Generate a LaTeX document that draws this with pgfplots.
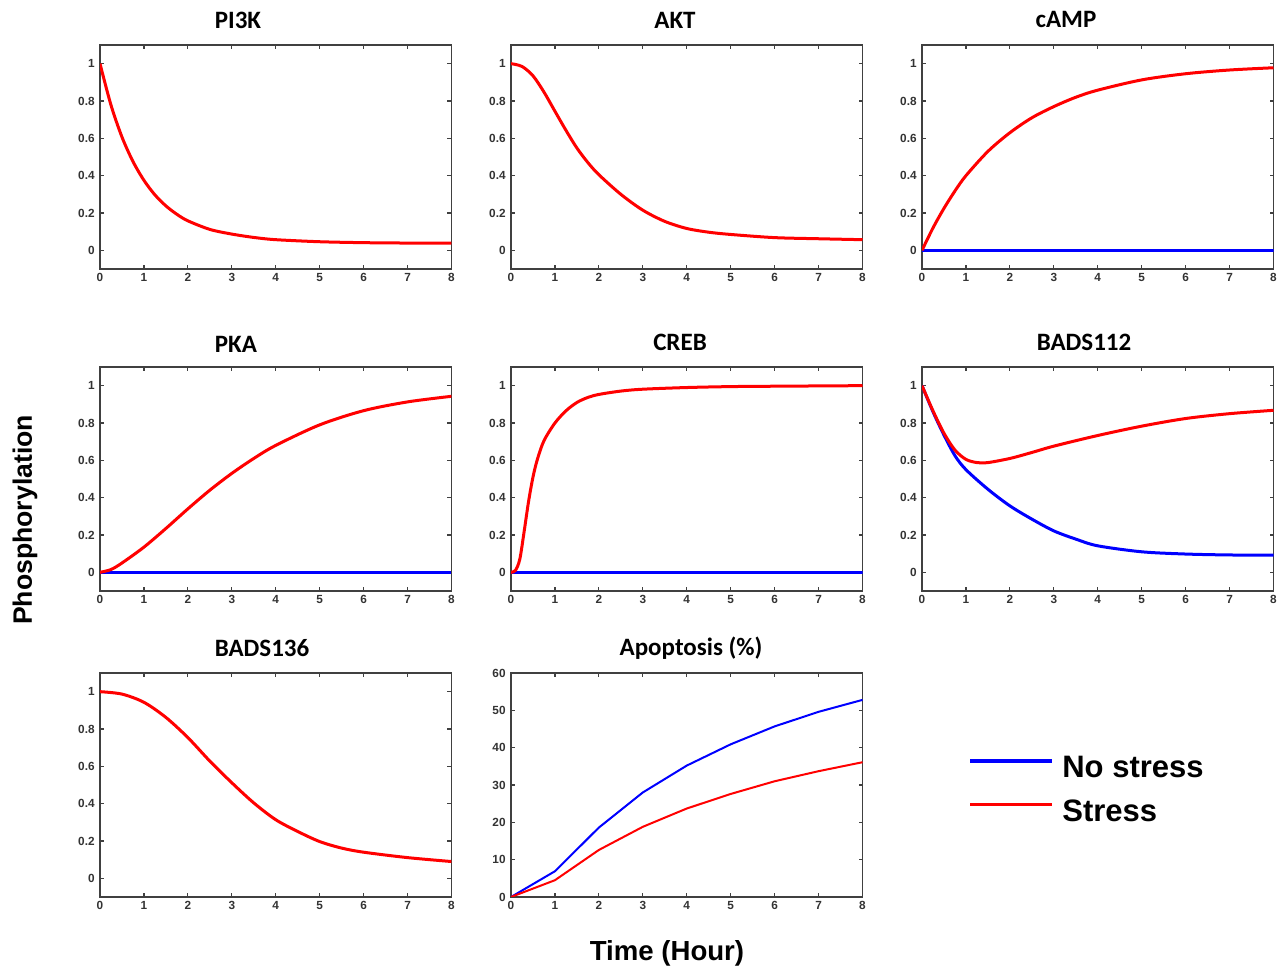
\documentclass[border=0pt]{standalone}
\usepackage{pgfplots}
\pgfplotsset{compat=1.18}
\usepackage{fontspec}
\setmainfont{Liberation Sans}
\newfontfamily\titlefont{Carlito}

\newcommand{\ticksfont}{\fontsize{5.9}{6.5}\selectfont\bfseries}
\definecolor{nostress}{RGB}{0,0,255}
\definecolor{stress}{RGB}{255,0,0}

\pgfplotsset{
  panel/.style={
    scale only axis, width=175.75pt, height=112pt, anchor=south west,
    xmin=0, xmax=8, xtick={0,1,2,3,4,5,6,7,8},
    tick align=inside, major tick length=2pt,
    axis line style={black!75, line width=0.6pt},
    every tick/.style={black!75, line width=0.6pt},
    ticklabel style={font=\ticksfont, text=black!80},
    xticklabel style={inner sep=1.8pt},
    yticklabel style={inner sep=1.5pt, xshift=-1pt},
    /pgf/number format/assume math mode=true,
  },
  phos/.style={panel, ymin=-0.1, ymax=1.1, ytick={0,0.2,0.4,0.6,0.8,1}},
  ns/.style={nostress, line width=1.5pt},
  st/.style={stress, line width=1.5pt},
}

\begin{document}
\begin{tikzpicture}

% ---------------- row 1 ----------------
\begin{axis}[phos, at={(50pt,349.5pt)}]
  \addplot[st, smooth] coordinates {(0,1) (0.25,0.778) (0.5,0.607) (0.75,0.476) (1,0.375)
    (1.25,0.297) (1.5,0.238) (1.75,0.193) (2,0.158) (2.5,0.112) (3,0.087)
    (3.5,0.069) (4,0.057) (5,0.046) (6,0.041) (7,0.039) (8,0.039)};
\end{axis}

\begin{axis}[phos, at={(255.5pt,349.5pt)}]
  \addplot[st, smooth] coordinates {(0,1) (0.25,0.985) (0.5,0.935) (0.75,0.848) (1,0.745)
    (1.25,0.643) (1.5,0.548) (1.75,0.47) (2,0.405) (2.5,0.3) (3,0.215)
    (3.5,0.155) (4,0.117) (4.5,0.097) (5,0.085) (6,0.068) (7,0.062) (8,0.057)};
\end{axis}

\begin{axis}[phos, at={(461pt,349.5pt)}]
  \addplot[ns] coordinates {(0,0) (8,0)};
  \addplot[st, smooth] coordinates {(0,0) (0.25,0.12) (0.5,0.225) (0.75,0.318) (1,0.40)
    (1.5,0.53) (2,0.63) (2.5,0.71) (3,0.77) (3.5,0.82) (4,0.858) (5,0.913)
    (6,0.946) (7,0.966) (8,0.978)};
\end{axis}

% ---------------- row 2 ----------------
\begin{axis}[phos, at={(50pt,188.5pt)}]
  \addplot[ns] coordinates {(0,0) (8,0)};
  \addplot[st, smooth] coordinates {(0,0) (0.25,0.015) (0.5,0.05) (1,0.135) (1.5,0.235)
    (2,0.34) (2.5,0.44) (3,0.53) (3.5,0.61) (4,0.68) (5,0.79) (6,0.866)
    (7,0.913) (8,0.943)};
\end{axis}

\begin{axis}[phos, at={(255.5pt,188.5pt)}]
  \addplot[ns] coordinates {(0,0) (8,0)};
  \addplot[st, smooth] coordinates {(0,0) (0.1,0.01) (0.2,0.07) (0.3,0.22) (0.4,0.38)
    (0.5,0.51) (0.6,0.605) (0.75,0.705) (1,0.80) (1.25,0.865) (1.5,0.91)
    (1.75,0.937) (2,0.953) (2.5,0.971) (3,0.981) (4,0.99) (5,0.995) (6,0.997) (8,1.0)};
\end{axis}

\begin{axis}[phos, at={(461pt,188.5pt)}]
  \addplot[ns, smooth] coordinates {(0,1) (0.25,0.86) (0.5,0.735) (0.75,0.625) (1,0.55)
    (1.5,0.445) (2,0.356) (2.5,0.285) (3,0.222) (3.5,0.178) (4,0.142)
    (5,0.11) (6,0.098) (7,0.093) (8,0.092)};
  \addplot[st, smooth] coordinates {(0,1) (0.25,0.865) (0.5,0.745) (0.75,0.655) (1,0.605)
    (1.25,0.588) (1.5,0.588) (2,0.61) (2.5,0.642) (3,0.676) (4,0.733)
    (5,0.783) (6,0.824) (7,0.85) (8,0.868)};
\end{axis}

% ---------------- row 3 ----------------
\begin{axis}[phos, at={(50pt,35.5pt)}]
  \addplot[st, smooth] coordinates {(0,1) (0.5,0.987) (1,0.943) (1.5,0.862) (2,0.754)
    (2.5,0.628) (3,0.512) (3.5,0.404) (4,0.314) (4.5,0.251) (5,0.197)
    (5.5,0.162) (6,0.14) (7,0.111) (8,0.09)};
\end{axis}

\begin{axis}[panel, at={(255.5pt,35.5pt)}, ymin=0, ymax=60,
    ytick={0,10,20,30,40,50,60},
    legend style={at={(rel axis cs:1.3,0.477)}, anchor=west, draw=none, fill=none,
      font=\fontsize{15.5}{17}\selectfont\bfseries, row sep=4.5pt,
      inner sep=0pt, nodes={inner sep=2.5pt}},
    legend cell align=left,
    legend image code/.code={\draw[#1] (0pt,0.35em) -- (41pt,0.35em);}]
  \addplot[nostress, line width=1pt, forget plot] coordinates {(0,0) (1,6.9) (2,18.6) (3,28.0)
    (4,35.2) (5,40.9) (6,45.7) (7,49.6) (8,52.8)};
  \addplot[stress, line width=1pt, forget plot] coordinates {(0,0) (1,4.5) (2,12.6) (3,18.8)
    (4,23.7) (5,27.6) (6,31.0) (7,33.7) (8,36.1)};
  \addlegendimage{nostress, line width=2pt}
  \addlegendentry{\hspace{1.5pt}No stress}
  \addlegendimage{stress, line width=1.6pt}
  \addlegendentry{\hspace{1.5pt}Stress}
\end{axis}

% panel titles
\begin{scope}[every node/.style={font=\titlefont\fontsize{12.5}{14}\selectfont\bfseries}]
  \node at (119pt,474pt) {PI3K};
  \node at (337.5pt,474pt) {AKT};
  \node at (533pt,474pt) {cAMP};
  \node at (118pt,312pt) {PKA};
  \node at (340pt,313pt) {CREB};
  \node at (542pt,313pt) {BADS112};
  \node at (131pt,160pt) {BADS136};
  \node at (345.5pt,160pt) {Apoptosis (\%)};
\end{scope}

% shared axis labels
\node[rotate=90, font=\fontsize{13.3}{15}\selectfont\bfseries] at (12.5pt,224pt) {Phosphorylation};
\node[font=\fontsize{13.8}{15}\selectfont\bfseries] at (333.5pt,7.5pt) {Time (Hour)};

\pgfresetboundingbox
\path[use as bounding box] (0,0) rectangle (641.5pt,484pt);
\end{tikzpicture}
\end{document}
